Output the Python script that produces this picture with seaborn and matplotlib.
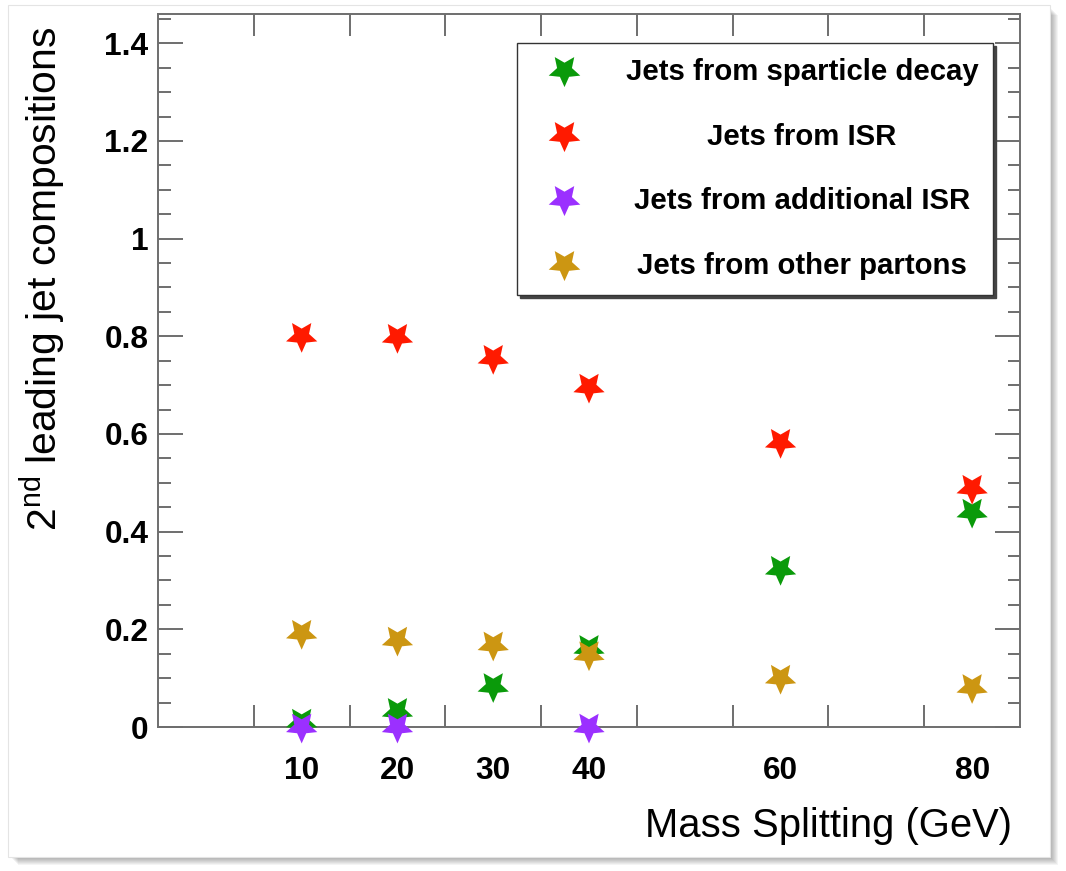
import numpy as np
import pandas as pd
import seaborn as sns
import matplotlib
matplotlib.use("Agg")
import matplotlib.pyplot as plt
from matplotlib.markers import MarkerStyle
from matplotlib.lines import Line2D
from matplotlib.patches import Rectangle
from matplotlib.path import Path
from matplotlib.transforms import Affine2D
from matplotlib import ticker

# ---------------- data ----------------
mass = [10, 20, 30, 40, 60, 80]
sparticle_decay = [0.010, 0.032, 0.083, 0.161, 0.323, 0.440]
isr = [0.800, 0.798, 0.755, 0.696, 0.583, 0.489]
additional_isr_mass = [10, 20, 40]
additional_isr = [0.0, 0.0, 0.0]
other_partons = [0.192, 0.178, 0.168, 0.148, 0.100, 0.081]

series_labels = ["Jets from sparticle decay", "Jets from ISR",
                 "Jets from additional ISR", "Jets from other partons"]
series_colors = ["#0a9a0a", "#ff1a00", "#9b30ff", "#cc9612"]
x_tick_values = [10, 20, 30, 40, 60, 80]
x_bin_edges = [5, 15, 25, 35, 45, 55, 65, 75]

# ---------------- style ----------------
sns.set_theme(style="white")
plt.rcParams["font.family"] = ["Liberation Sans", "DejaVu Sans"]
plt.rcParams["mathtext.fontset"] = "custom"
plt.rcParams["mathtext.rm"] = "Liberation Sans"
plt.rcParams["mathtext.default"] = "regular"
plt.rcParams["text.color"] = "black"
plt.rcParams["axes.labelcolor"] = "black"
plt.rcParams["xtick.labelcolor"] = "black"
plt.rcParams["ytick.labelcolor"] = "black"

W, H = 1066, 871
fig = plt.figure(figsize=(W / 100, H / 100), dpi=100)
fig.patch.set_facecolor("white")


def fig_rect(x0, y0, x1, y1, **kw):
    return Rectangle((x0 / W, 1 - y1 / H), (x1 - x0) / W, (y1 - y0) / H,
                     transform=fig.transFigure, **kw)


# picture frame with drop shadow
for i in range(9):
    fig.patches.append(fig_rect(10 + i, 7 + i, 1050 + i, 857 + i,
                                facecolor="black", alpha=0.045, lw=0, zorder=-3))
fig.patches.append(fig_rect(8, 5, 1050, 857, facecolor="white",
                            edgecolor="#e4e4e4", lw=0.8, zorder=-2))

ax = fig.add_axes([158 / W, 1 - 727 / H, (1020 - 158) / W, (727 - 14) / H])
ax.set_facecolor("white")

df = pd.concat([
    pd.DataFrame({"mass": mass, "frac": sparticle_decay, "source": series_labels[0]}),
    pd.DataFrame({"mass": mass, "frac": isr, "source": series_labels[1]}),
    pd.DataFrame({"mass": additional_isr_mass, "frac": additional_isr, "source": series_labels[2]}),
    pd.DataFrame({"mass": mass, "frac": other_partons, "source": series_labels[3]}),
], ignore_index=True)

# ROOT-like (upside-down, chunky) five-pointed star marker shape
star_path = Affine2D().rotate_deg(180).transform_path(
    Path.unit_regular_star(5, innerCircle=0.47))
star = MarkerStyle(star_path)

sns.scatterplot(data=df, x="mass", y="frac", hue="source", hue_order=series_labels,
                palette=series_colors, marker=star, s=560, linewidth=0,
                edgecolor="none", legend=False, ax=ax, zorder=3, clip_on=False)

ax.set_xlim(-5, 85)
ax.set_ylim(0, 1.46)

axis_col = "#6e6e6e"
for sp in ax.spines.values():
    sp.set_visible(True)
    sp.set_color(axis_col)
    sp.set_linewidth(1.4)

ax.xaxis.set_major_locator(ticker.FixedLocator(x_tick_values))
ax.xaxis.set_minor_locator(ticker.FixedLocator(x_bin_edges))
ax.yaxis.set_major_locator(ticker.MultipleLocator(0.2))
ax.yaxis.set_minor_locator(ticker.MultipleLocator(0.05))
ax.yaxis.set_major_formatter(ticker.FormatStrFormatter("%g"))

ax.tick_params(axis="x", which="major", length=0, pad=21, labelsize=22.8,
               labelcolor="black", top=True, bottom=True)
ax.tick_params(axis="x", which="minor", length=16, width=1.4, direction="in",
               color=axis_col, top=True, bottom=True)
ax.tick_params(axis="y", which="major", length=18, width=1.4, direction="in",
               color=axis_col, left=True, right=True, pad=7, labelsize=22.8,
               labelcolor="black")
ax.tick_params(axis="y", which="minor", length=9, width=1.4, direction="in",
               color=axis_col, left=True, right=True)
plt.setp(ax.get_xticklabels() + ax.get_yticklabels(), fontweight="bold")

ax.set_xlabel("Mass Splitting (GeV)", fontsize=28.8, ha="right", va="top",
              color="black")
ax.xaxis.set_label_coords(0.9907, -0.1122)
ax.set_ylabel(r"2$^{nd}$ leading jet compositions", fontsize=29.4, ha="right",
              va="bottom", color="black")
ax.yaxis.set_label_coords(-0.104, 0.9818)

# ---------------- legend ----------------
handles = [Line2D([], [], linestyle="none", marker=star, markersize=23.9,
                  markerfacecolor=c, markeredgewidth=0) for c in series_colors]
leg = ax.legend(handles, series_labels, loc="upper left",
                bbox_to_anchor=(0.4165, 0.610, 0.5522, 0.3493), mode="expand",
                borderaxespad=0, borderpad=0.52, labelspacing=1.24,
                handlelength=2.17, handletextpad=0.8,
                prop={"size": 21.2, "weight": "bold"}, frameon=True, fancybox=False,
                framealpha=1, edgecolor="#333333",
                shadow={"ox": 2, "oy": -2, "color": "#444444", "alpha": 1})
leg.get_frame().set_linewidth(1.0)
leg.set_zorder(5)

fig.canvas.draw()
renderer = fig.canvas.get_renderer()
inv = ax.transAxes.inverted()
for t in leg.get_texts():
    bb = t.get_window_extent(renderer)
    yc = inv.transform(((bb.x0 + bb.x1) / 2, (bb.y0 + bb.y1) / 2))[1]
    ax.text(0.747, yc, t.get_text(), transform=ax.transAxes, ha="center",
            va="center", fontsize=21.2, fontweight="bold", color="black",
            zorder=10)
    t.set_alpha(0)

fig.savefig("out.png", dpi=100, facecolor="white")
